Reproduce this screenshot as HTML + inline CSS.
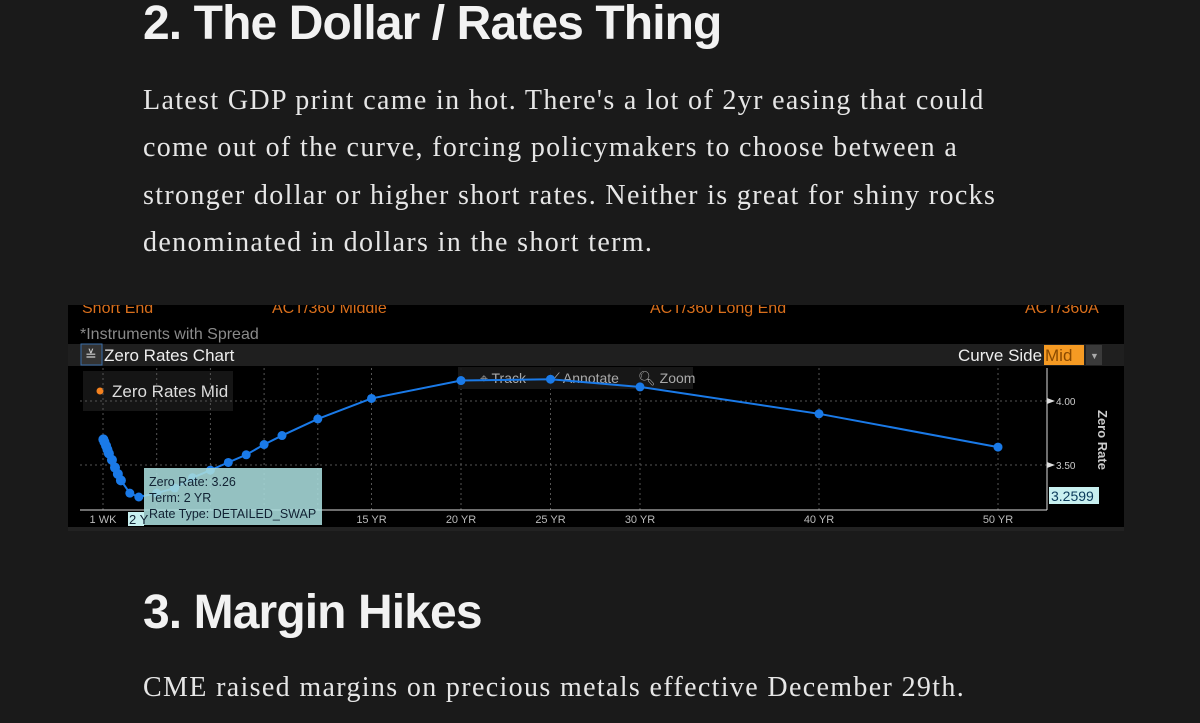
<!DOCTYPE html>
<html><head><meta charset="utf-8"><style>
body{margin:0;width:1200px;height:723px;background:#1a1a1a;overflow:hidden;position:relative;font-family:"Liberation Sans",sans-serif}
.h{position:absolute;left:143px;color:#f2f2f2;font-weight:bold;font-size:48px;letter-spacing:-0.9px;white-space:nowrap}
.p{position:absolute;left:143px;color:#e6e6e6;font-family:"Liberation Serif",serif;font-size:28px;white-space:nowrap;letter-spacing:1.35px}
</style></head><body>
<div class="h" style="top:-4px">2. The Dollar / Rates Thing</div>
<div class="p" style="top:85px">Latest GDP print came in hot. There's a lot of 2yr easing that could</div>
<div class="p" style="top:132px">come out of the curve, forcing policymakers to choose between a</div>
<div class="p" style="top:180px">stronger dollar or higher short rates. Neither is great for shiny rocks</div>
<div class="p" style="top:227px">denominated in dollars in the short term.</div>
<div class="h" style="top:585px">3. Margin Hikes</div>
<div class="p" style="top:672px">CME raised margins on precious metals effective December 29th.</div>

<svg style="position:absolute;left:0;top:0" width="1200" height="723">
<defs><clipPath id="cp"><rect x="68" y="305" width="1056" height="226"/></clipPath></defs>
<rect x="68" y="305" width="1056" height="226" fill="#000"/>
<g fill="#d96f1c" font-size="16" clip-path="url(#cp)">
<text x="82" y="313">Short End</text><text x="272" y="313">ACT/360 Middle</text><text x="650" y="313">ACT/360 Long End</text><text x="1025" y="313">ACT/360A</text></g>
<text x="80" y="339" fill="#8a8a8a" font-size="16">*Instruments with Spread</text>
<rect x="68" y="344" width="1056" height="22" fill="#1f1f1f"/>
<rect x="81" y="344" width="21" height="21" fill="#333" stroke="#3a6ea8"/>
<text x="85" y="360" fill="#ccc" font-size="14">≚</text>
<text x="104" y="361" fill="#eee" font-size="17">Zero Rates Chart</text>
<text x="958" y="361" fill="#eee" font-size="17">Curve Side</text>
<rect x="1044" y="345" width="40" height="20" fill="#f59a23"/>
<text x="1045" y="361" fill="#8a4a00" font-size="17">Mid</text>
<rect x="1086" y="345" width="16" height="20" fill="#3a3a3a"/><text x="1090" y="359" fill="#aaa" font-size="9">▼</text>
<rect x="83" y="371" width="150" height="40" fill="#151515"/>
<circle cx="100" cy="391" r="3.5" fill="#f5821f"/>
<text x="112" y="397" fill="#ddd" font-size="17">Zero Rates Mid</text>
<g id="grid"></g>
<rect x="458" y="367" width="235" height="22" fill="#1a1a1a" opacity="0.9"/>
<g fill="#aaa" font-size="14"><text x="480" y="383">⌖ Track</text><text x="550" y="383">⟋ Annotate</text><text x="638" y="383">🔍︎ Zoom</text></g>
<g id="marks"></g>
<text x="1098" y="410" fill="#ccc" font-size="13" font-weight="bold" transform="rotate(90 1098 410)">Zero Rate</text>
<rect x="1049" y="487" width="50" height="17" fill="#c8f0f0"/>
<text x="1051" y="501" fill="#0a3a5a" font-size="14">3.2599</text>
<rect x="144" y="468" width="178" height="57" fill="#a8dcdc" opacity="0.88"/>
<g fill="#123" font-size="12.5"><text x="149" y="486">Zero Rate: 3.26</text><text x="149" y="502">Term: 2 YR</text><text x="149" y="518">Rate Type: DETAILED_SWAP</text></g>
<rect x="128" y="512" width="16" height="14" fill="#c8f0f0"/><text x="129" y="524" fill="#123" font-size="13">2 Y</text>
<rect x="68" y="527" width="1056" height="4" fill="#222"/>
</svg>
<script>
const terms=[0.02,0.08,0.17,0.25,0.33,0.5,0.67,0.83,1,1.5,2,3,4,5,6,7,8,9,10,12,15,20,25,30,40,50];
const rates=[3.70,3.68,3.65,3.62,3.59,3.54,3.48,3.43,3.38,3.28,3.25,3.28,3.32,3.40,3.46,3.52,3.58,3.66,3.73,3.86,4.02,4.16,4.17,4.11,3.90,3.64];
const gridTerms=[0,3,6,9,12,15,20,25,30,40,50];
const tickLabels=["1 WK","","","","","15 YR","20 YR","25 YR","30 YR","40 YR","50 YR"];
const yTicks=[3.5,4.0];
const yLabels=["3.50","4.00"];
const NS="http://www.w3.org/2000/svg";
const X=t=>103+17.9*t, Y=v=>401+(4-v)*128;
function mk(tag,a,p){const e=document.createElementNS(NS,tag);for(const k in a)e.setAttribute(k,a[k]);p.appendChild(e);return e;}
const g=document.getElementById('grid'),m=document.getElementById('marks');
gridTerms.forEach((t,i)=>{
 const l=mk('line',{x1:X(t),x2:X(t),y1:368,y2:510,stroke:'#555','stroke-dasharray':'2 3'},g);
 
 
 if(tickLabels[i]){const tx=mk('text',{x:X(t),y:523,fill:'#bbb','font-size':11,'text-anchor':'middle'},g);tx.textContent=tickLabels[i];
 
 }
});
yTicks.forEach((v,i)=>{
 const l=mk('line',{x1:80,x2:1047,y1:Y(v),y2:Y(v),stroke:'#555','stroke-dasharray':'2 3'},g);
 
 
 mk('path',{d:`M1047 ${Y(v)-3}L1055 ${Y(v)}L1047 ${Y(v)+3}Z`,fill:'#ddd'},g);
 const tx=mk('text',{x:1056,y:Y(v)+4,fill:'#ccc','font-size':10},g);tx.textContent=yLabels[i];
 
 
});
mk('line',{x1:80,x2:1047,y1:510,y2:510,stroke:'#ddd'},g);
mk('line',{x1:1047,x2:1047,y1:368,y2:510,stroke:'#ddd'},g);
const pl=mk('polyline',{points:terms.map((t,i)=>X(t)+','+Y(rates[i])).join(' '),fill:'none',stroke:'#1a7ae8','stroke-width':2},m);


terms.forEach((t,i)=>{const c=mk('circle',{cx:X(t),cy:Y(rates[i]),r:t<1.2?5:4.5,fill:'#1a7ae8'},m);
 
 });
</script>
</body></html>
